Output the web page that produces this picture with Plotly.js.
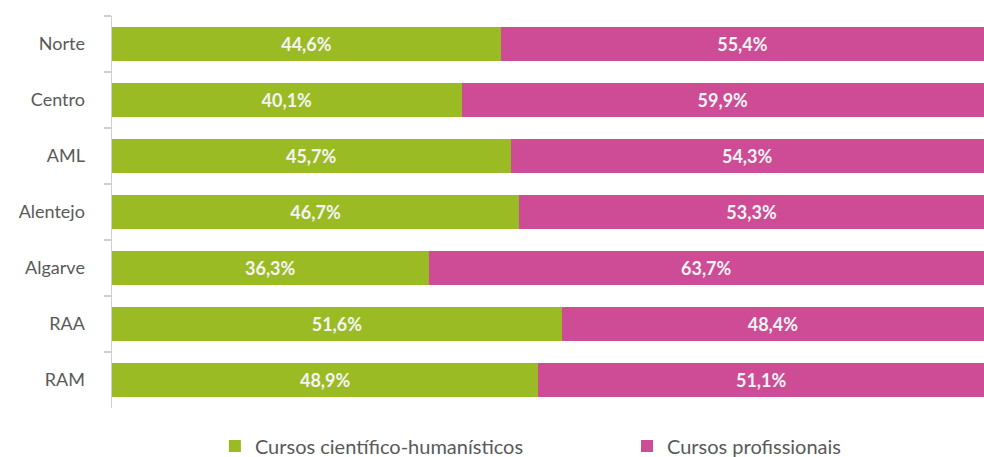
<!DOCTYPE html>
<html><head><meta charset="utf-8">
<script src="https://cdn.plot.ly/plotly-3.0.1.min.js"></script>
<style>html,body{margin:0;padding:0;background:#fff}#c{width:984px;height:457px}</style>
</head><body><div id="c"></div>
<script>
const regions = ["Norte","Centro","AML","Alentejo","Algarve","RAA","RAM"];
const cientificoHumanisticos = [44.6,40.1,45.7,46.7,36.3,51.6,48.9];
const profissionais = [55.4,59.9,54.3,53.3,63.7,48.4,51.1];
const seriesNames = ["Cursos científico-humanísticos","Cursos profissionais"];

const fontFam = "Lato, 'Open Sans', sans-serif";
function tr(vals, name, color, leg){
  return {
    type:"bar", orientation:"h", y:regions, x:vals, name:name, legend:leg,
    marker:{color:color}, width:0.61,
    texttemplate:"%{x:.1f}%", textposition:"inside", insidetextanchor:"middle",
    textfont:{family:fontFam, size:18, color:"#f4f4f4", weight:"bold"},
    hoverinfo:"skip"
  };
}
const data = [
  tr(cientificoHumanisticos, seriesNames[0], "#9bbb25", "legend"),
  tr(profissionais, seriesNames[1], "#cd4c95", "legend2")
];
const legBase = {orientation:"h", xanchor:"left", yref:"container", y:0.024, yanchor:"middle",
          font:{family:fontFam, size:20, color:"#595959"}, itemwidth:30, bgcolor:"rgba(0,0,0,0)"};
const layout = {
  width:984, height:457, barmode:"stack", separators:",.",
  margin:{l:112,r:0,t:16,b:49},
  paper_bgcolor:"#fff", plot_bgcolor:"#fff",
  font:{family:fontFam, color:"#595959"},
  xaxis:{range:[0,100], showgrid:false, zeroline:false, showticklabels:false, showline:false, fixedrange:true},
  yaxis:{autorange:"reversed", showline:true, linecolor:"#d0d0d0", linewidth:1.5,
         ticks:"outside", tickson:"boundaries", ticklen:7, tickcolor:"#d0d0d0", tickwidth:1.5,
         ticklabelstandoff:22,
         tickfont:{family:fontFam, size:18, color:"#595959"}, showgrid:false, zeroline:false},
  showlegend:true,
  legend:Object.assign({}, legBase, {x:0.118}),
  legend2:Object.assign({}, legBase, {x:0.5906})
};
Plotly.newPlot("c", data, layout, {displayModeBar:false, staticPlot:true});
</script></body></html>
